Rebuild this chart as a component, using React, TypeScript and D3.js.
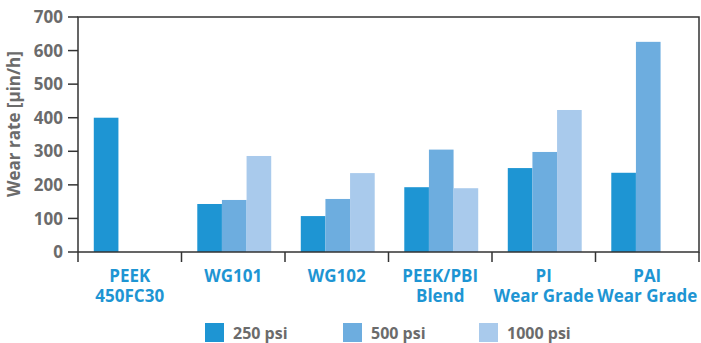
import React from 'react';
import * as d3 from 'd3';

const categories = ['PEEK\n450FC30', 'WG101', 'WG102', 'PEEK/PBI\nBlend', 'PI\nWear Grade', 'PAI\nWear Grade'];
const seriesNames = ['250 psi', '500 psi', '1000 psi'];
const psi250 = [400, 143, 107, 193, 250, 236];
const psi500 = [null, 155, 158, 305, 298, 626];
const psi1000 = [null, 286, 235, 190, 423, null];
const yTicks = [0, 100, 200, 300, 400, 500, 600, 700];

const colors = ['#1e95d3', '#6dadDF', '#a9caec'];
const tickGrey = '#6b6b6b';
const labelBlue = '#1e95d3';
const axisColor = '#333333';
const font = '"Open Sans", "DejaVu Sans", sans-serif';

export default function App() {
  const width = 701;
  const height = 343;
  const left = 78;
  const right = 699;
  const top = 17;
  const bottom = 252;

  const series = [psi250, psi500, psi1000];

  const x = d3.scaleBand<number>().domain(d3.range(categories.length)).range([left, right]);
  const inner = d3
    .scaleBand<number>()
    .domain([0, 1, 2])
    .range([0, x.bandwidth()])
    .paddingInner(0)
    .paddingOuter(0.6);
  const y = d3.scaleLinear().domain([0, 700]).range([bottom, top]);

  const legendX = [205, 343, 479];

  return (
    <svg width={width} height={height} style={{ position: 'absolute', left: 0, top: 0 }}>
      <rect width={width} height={height} fill="#fff" />

      {/* bars */}
      {series.map((vals, si) =>
        vals.map((v, ci) =>
          v == null ? null : (
            <rect
              key={`${si}-${ci}`}
              x={(x(ci) as number) + (inner(si) as number) + 1}
              y={y(v)}
              width={inner.bandwidth()}
              height={bottom - y(v)}
              fill={colors[si]}
            />
          )
        )
      )}

      {/* frame */}
      <path
        d={`M${left},${bottom}V${top}H${right}V${bottom}H${left}`}
        fill="none"
        stroke={axisColor}
        strokeWidth={1.5}
      />

      {/* y ticks */}
      {yTicks.map((t) => (
        <g key={t}>
          <line x1={left - 10} x2={left} y1={y(t)} y2={y(t)} stroke={axisColor} strokeWidth={1.5} />
          <text
            x={left - 15}
            y={y(t)}
            dy="0.36em"
            textAnchor="end"
            fontFamily={font}
            fontWeight="bold"
            fontSize={17}
            fill={tickGrey}
          >
            {t}
          </text>
        </g>
      ))}
      <line x1={left} x2={left} y1={bottom} y2={bottom + 10} stroke={axisColor} strokeWidth={1.5} />

      {/* category ticks and labels */}
      {categories.map((c, i) => {
        const x0 = x(i) as number;
        const cx = x0 + x.bandwidth() / 2;
        return (
          <g key={c}>
            <line
              x1={x0 + x.bandwidth()}
              x2={x0 + x.bandwidth()}
              y1={bottom}
              y2={bottom + 10}
              stroke={axisColor}
              strokeWidth={1.5}
            />
            <text
              textAnchor="middle"
              fontFamily={font}
              fontWeight="bold"
              fontSize={17}
              fill={labelBlue}
            >
              {c.split('\n').map((line, li) => (
                <tspan key={li} x={cx} y={282 + li * 20}>
                  {line}
                </tspan>
              ))}
            </text>
          </g>
        );
      })}

      {/* y axis title */}
      <text
        transform={`translate(20,124) rotate(-90)`}
        textAnchor="middle"
        fontFamily={font}
        fontWeight="bold"
        fontSize={17}
        fill={tickGrey}
      >
        Wear rate [µin/h]
      </text>

      {/* legend */}
      {seriesNames.map((n, i) => (
        <g key={n}>
          <rect x={legendX[i]} y={323} width={19} height={19} fill={colors[i]} />
          <text
            x={legendX[i] + 28}
            y={339}
            fontFamily={font}
            fontWeight="bold"
            fontSize={16}
            fill={tickGrey}
          >
            {n}
          </text>
        </g>
      ))}
    </svg>
  );
}
